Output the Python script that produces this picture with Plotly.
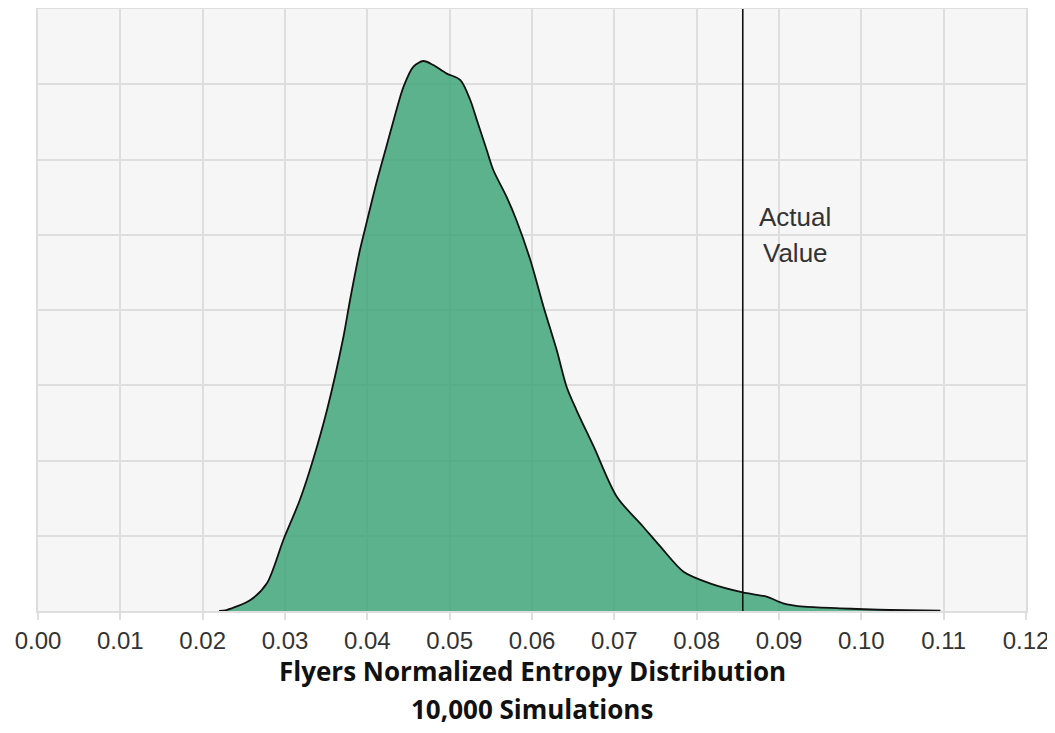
import plotly.graph_objects as go

# Density curve (x = normalized entropy, y = density)
entropy = [0.0220, 0.0229, 0.0258, 0.0278, 0.0298, 0.0318, 0.0334, 0.0351, 0.0371,
           0.0379, 0.0391, 0.0399, 0.0411, 0.0422, 0.0432, 0.0444, 0.0456, 0.0468,
           0.0480, 0.0496, 0.0513, 0.0525, 0.0533, 0.0545, 0.0553, 0.0569, 0.0581,
           0.0598, 0.0614, 0.0630, 0.0642, 0.0654, 0.0675, 0.0703, 0.0735, 0.0756,
           0.0784, 0.0816, 0.0856, 0.0885, 0.0905, 0.0930, 0.0974, 0.1003, 0.1035,
           0.1096]
density = [0.0, 0.013, 0.146, 0.368, 0.944, 1.475, 2.007, 2.671, 3.645,
           4.133, 4.797, 5.156, 5.688, 6.126, 6.525, 6.968, 7.234, 7.309,
           7.256, 7.145, 7.056, 6.791, 6.525, 6.126, 5.860, 5.506, 5.196,
           4.664, 4.044, 3.468, 2.981, 2.671, 2.184, 1.519, 1.120, 0.855,
           0.522, 0.368, 0.248, 0.190, 0.102, 0.057, 0.036, 0.023, 0.013,
           0.004]

actual_value = 0.0856
x_ticks = [round(i * 0.01, 2) for i in range(13)]
x_tick_labels = [f"{v:.2f}" for v in x_ticks]
title_lines = ["Flyers Normalized Entropy Distribution", "10,000 Simulations"]
actual_label = ["Actual", "Value"]

fig = go.Figure()
fig.add_trace(go.Scatter(
    x=entropy, y=density, mode="lines",
    line=dict(color="#111111", width=1.8, shape="spline", smoothing=0.8),
    fill="tozeroy", fillcolor="rgba(65,166,121,0.85)",
    hoverinfo="skip", showlegend=False,
))

fig.add_shape(type="line", xref="x", yref="paper", x0=actual_value, x1=actual_value,
              y0=0, y1=1, line=dict(color="#111111", width=1.6))

fig.add_annotation(x=0.09195, y=5.24, xref="x", yref="y", text=actual_label[0],
                   showarrow=False, font=dict(family="Liberation Sans", size=26, color="#333333"))
fig.add_annotation(x=0.09195, y=4.76, xref="x", yref="y", text=actual_label[1],
                   showarrow=False, font=dict(family="Liberation Sans", size=26, color="#333333"))

fig.add_annotation(x=0.5, y=0, xref="paper", yref="paper", yshift=-60, text="<b>" + title_lines[0] + "</b>",
                   showarrow=False, yanchor="middle",
                   font=dict(family="Open Sans", size=26, color="#111111"))
fig.add_annotation(x=0.5, y=0, xref="paper", yref="paper", yshift=-98, text="<b>" + title_lines[1] + "</b>",
                   showarrow=False, yanchor="middle",
                   font=dict(family="Open Sans", size=26, color="#111111"))

fig.update_layout(
    width=1047, height=725,
    margin=dict(l=30, r=29, t=1, b=122),
    paper_bgcolor="white", plot_bgcolor="#f6f6f6",
    xaxis=dict(range=[0, 0.12], tickvals=x_ticks, ticktext=x_tick_labels,
               showgrid=True, gridcolor="#dedede", gridwidth=1.5,
               ticks="outside", ticklen=7, tickcolor="#dedede", tickwidth=1.5,
               tickfont=dict(family="Liberation Sans", size=24, color="#333333"),
               showline=True, linecolor="#dedede", linewidth=1.5, mirror=True,
               zeroline=False, automargin=False),
    yaxis=dict(range=[0, 8], dtick=1, showticklabels=False,
               showgrid=True, gridcolor="#dedede", gridwidth=1.5,
               showline=True, linecolor="#dedede", linewidth=1.5, mirror=True,
               zeroline=False, automargin=False),
)

fig.write_html("out.html")
